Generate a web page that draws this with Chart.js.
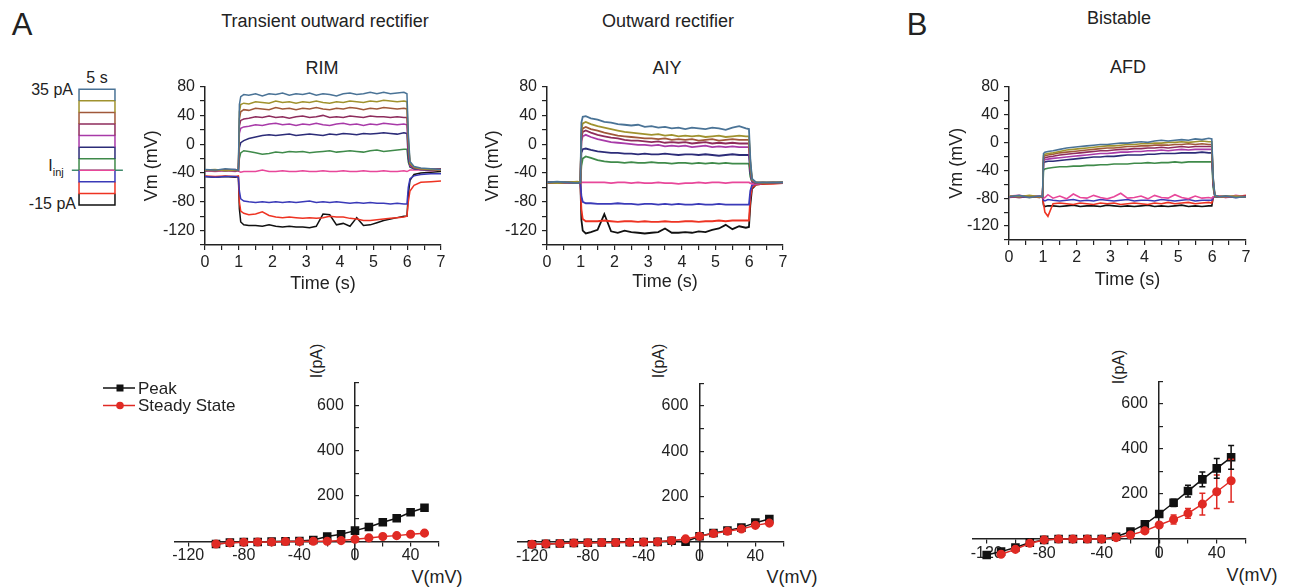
<!DOCTYPE html>
<html>
<head>
<meta charset="utf-8">
<script src="https://cdn.jsdelivr.net/npm/chart.js@4.4.1/dist/chart.umd.min.js"></script>
<style>
  body { margin: 0; background: #fff; width: 1293px; height: 588px; position: relative; overflow: hidden;
         font-family: "Liberation Sans", Arial, sans-serif; color: #222; }
  .box { position: absolute; }
  .t { position: absolute; white-space: nowrap; line-height: 1; transform: translate(-50%, -50%); }
  .r { position: absolute; white-space: nowrap; line-height: 1; transform: translate(-100%, -50%); }
  .v { position: absolute; white-space: nowrap; line-height: 1; transform: translate(-50%, -50%) rotate(-90deg); }
</style>
</head>
<body>

<div class="t" style="left:22px;top:24px;font-size:31px">A</div>
<div class="t" style="left:917px;top:24px;font-size:31px">B</div>
<div class="t" style="left:325px;top:21px;font-size:18px">Transient outward rectifier</div>
<div class="t" style="left:668px;top:21px;font-size:18px">Outward rectifier</div>
<div class="t" style="left:1119px;top:18px;font-size:18px">Bistable</div>
<div class="t" style="left:322px;top:68px;font-size:18px">RIM</div>
<div class="t" style="left:667px;top:68px;font-size:18px">AIY</div>
<div class="t" style="left:1128px;top:67px;font-size:18px">AFD</div>

<div class="r" style="left:73px;top:90px;font-size:16px">35 pA</div>
<div class="r" style="left:76px;top:204px;font-size:16px">-15 pA</div>
<div class="t" style="left:97px;top:78px;font-size:16px">5 s</div>
<div class="t" style="left:56px;top:168px;font-size:16px">I<sub style="font-size:11px">inj</sub></div>

<div class="t" style="left:437px;top:577px;font-size:18px">V(mV)</div>
<div class="t" style="left:792px;top:577px;font-size:18px">V(mV)</div>
<div class="t" style="left:1252px;top:575px;font-size:18px">V(mV)</div>
<div class="v" style="left:317px;top:361px;font-size:16px">I(pA)</div>
<div class="v" style="left:659px;top:361px;font-size:16px">I(pA)</div>
<div class="v" style="left:1119px;top:367px;font-size:16px">I(pA)</div>

<div class="box" id="stimBox"><canvas id="stim"></canvas></div>
<div class="box" id="rimBox"><canvas id="rim"></canvas></div>
<div class="box" id="aiyBox"><canvas id="aiy"></canvas></div>
<div class="box" id="afdBox"><canvas id="afd"></canvas></div>
<div class="box" id="rimIvBox"><canvas id="rimIv"></canvas></div>
<div class="box" id="aiyIvBox"><canvas id="aiyIv"></canvas></div>
<div class="box" id="afdIvBox"><canvas id="afdIv"></canvas></div>

<script>
// current steps (pA) and their colours
const stepLevels = [35, 30, 25, 20, 15, 10, 5, 0, -5, -10, -15];
const stepColors = ['#4a7396', '#a0922e', '#a0583a', '#8e2c5c', '#a83aa8', '#2c2c78',
                    '#3f8a4a', '#e8479a', '#3a3ab8', '#ee3322', '#111111'];
const stepSpan = [0, 5];       // 5 s pulse in the legend
const iinjSpan = [-1, 6.1];

// sample times (s) shared by all voltage traces
const T = [0, 0.3, 0.6, 0.9, 0.99, 1.02, 1.06, 1.15,
  1.3, 1.5, 1.7, 1.9, 2.1, 2.3, 2.5, 2.7, 2.9, 3.1, 3.3, 3.5, 3.7, 3.9, 4.1, 4.3,
  4.5, 4.7, 4.9, 5.1, 5.3, 5.5, 5.7, 5.9, 5.99, 6.03, 6.08, 6.2, 6.4, 6.7, 7];

// RIM traces (mV)
const rim35 = [-35,-36,-34,-35,-36, 55,66,69, 68,70,67,70,69,71,68,70, 69,71,68,70,69,67,70,71, 69,70,72,70,72,70,71,72, 70, 15,-24,-31,-33,-34,-35];
const rim30 = [-36,-35,-37,-36,-35, 45,55,57, 56,59,58,57,60,58,59,57, 59,58,60,58,57,59,58,60, 59,58,60,59,61,60,59,60, 59, 8,-26,-32,-34,-35,-36];
const rim25 = [-36,-37,-35,-36,-37, 35,45,48, 47,50,49,48,51,49,50,48, 50,49,51,49,48,50,49,51, 50,48,50,49,51,50,49,50, 49, 2,-27,-32,-34,-35,-35];
const rim20 = [-37,-36,-36,-37,-36, 25,33,35, 36,38,37,39,37,38,36,38, 39,37,38,40,37,38,37,39, 38,37,39,38,38,37,38,37, 37, -4,-28,-33,-34,-35,-34];
const rim15 = [-36,-37,-36,-35,-37, 15,22,24, 25,27,26,28,29,27,28,26, 28,27,29,27,26,28,29,27, 28,26,28,27,29,28,27,28, 27, -10,-30,-33,-35,-34,-35];
const rim10 = [-37,-36,-37,-36,-36, -5,2,5, 8,10,12,13,12,13,14,12, 13,14,13,12,14,13,15,14, 13,15,14,15,16,15,14,16, 15, -20,-31,-34,-35,-36,-35];
const rim5 = [-36,-37,-36,-37,-36, -20,-12,-9, -10,-12,-14,-13,-11,-12,-10,-11, -10,-12,-11,-10,-9,-11,-10,-9, -10,-11,-9,-8,-10,-9,-8,-7, -7, -25,-32,-34,-35,-35,-34];
const rim0 = [-37,-38,-37,-38,-37, -38,-39,-38, -38,-38,-36,-38,-38,-37,-38,-38, -37,-38,-38,-37,-38,-38,-37,-38, -38,-37,-38,-38,-37,-38,-38,-37, -38, -37,-36,-36,-36,-37,-36];
const rimM5 = [-45,-46,-45,-45,-46, -65,-76,-79, -80,-81,-80,-81,-80,-81,-80,-81, -80,-79,-81,-80,-81,-80,-81,-82, -81,-82,-81,-82,-82,-83,-82,-83, -83, -60,-48,-44,-42,-41,-41];
const rimM10 = [-44,-45,-44,-45,-44, -80,-93,-96, -98,-97,-94,-99,-101,-102,-101,-102, -103,-102,-103,-102,-100,-101,-101,-103, -104,-106,-106,-105,-104,-103,-102,-101, -100, -80,-65,-57,-53,-52,-51];
const rimM15 = [-45,-46,-45,-46,-45, -90,-108,-112, -113,-113,-114,-112,-114,-115,-114,-115, -115,-116,-114,-97,-98,-112,-110,-114, -102,-113,-112,-109,-106,-104,-102,-100, -100, -70,-50,-42,-40,-39,-38];

// AIY traces (mV)
const aiy35 = [-53,-52,-53,-54,-53, 30,38,39, 36,34,31,30,28,27,26,27, 24,25,23,24,22,23,21,23, 22,21,23,22,20,23,25,22, 21, -20,-48,-53,-53,-53,-53];
const aiy30 = [-53,-54,-53,-52,-53, 20,29,31, 28,25,23,21,19,17,16,15, 14,13,14,12,13,11,12,11, 12,10,11,12,10,11,12,11, 11, -25,-49,-53,-53,-53,-53];
const aiy25 = [-54,-53,-53,-54,-53, 14,22,24, 21,19,16,14,12,11,10,9, 8,8,7,8,6,7,6,7, 5,6,7,5,6,7,6,6, 6, -28,-50,-53,-54,-53,-53];
const aiy20 = [-53,-54,-53,-53,-54, 9,17,19, 16,13,11,9,8,6,5,5, 4,3,4,2,3,2,3,1, 2,3,1,2,1,2,1,1, 1, -32,-50,-54,-53,-54,-53];
const aiy15 = [-54,-53,-54,-53,-53, 4,11,13, 10,7,5,3,2,1,0,-1, -1,-2,-1,-3,-2,-3,-2,-4, -3,-2,-4,-3,-4,-3,-4,-4, -4, -35,-51,-54,-54,-53,-54];
const aiy10 = [-53,-53,-54,-53,-53, -12,-7,-6, -8,-10,-11,-12,-12,-13,-13,-14, -13,-14,-14,-13,-14,-15,-14,-14, -15,-14,-15,-16,-15,-14,-15,-15, -15, -40,-52,-54,-54,-54,-53];
const aiy5 = [-54,-53,-53,-54,-53, -30,-20,-17, -19,-22,-24,-25,-25,-26,-25,-26, -26,-25,-26,-26,-27,-26,-26,-27, -26,-27,-26,-27,-26,-27,-27,-27, -27, -45,-52,-54,-54,-54,-54];
const aiy0 = [-53,-53,-54,-53,-53, -53,-53,-53, -53,-53,-53,-54,-53,-53,-54,-53, -54,-54,-53,-54,-54,-55,-54,-54, -53,-54,-53,-53,-54,-53,-53,-53, -53, -54,-55,-55,-54,-54,-54];
const aiyM5 = [-53,-54,-53,-53,-54, -72,-80,-82, -82,-83,-83,-83,-82,-83,-83,-84, -83,-83,-84,-83,-84,-83,-84,-84, -83,-84,-84,-83,-84,-84,-84,-84, -84, -65,-57,-55,-54,-54,-54];
const aiyM10 = [-54,-53,-54,-53,-53, -90,-104,-107, -107,-107,-106,-107,-108,-107,-107,-108, -107,-108,-108,-107,-108,-108,-107,-107, -108,-107,-107,-106,-107,-106,-106,-106, -106, -75,-60,-56,-55,-55,-54];
const aiyM15 = [-53,-54,-53,-53,-53, -105,-120,-124, -122,-119,-97,-121,-123,-120,-122,-123, -124,-123,-122,-117,-123,-123,-122,-123, -121,-122,-119,-117,-112,-118,-114,-116, -115, -85,-62,-56,-55,-54,-54];

// AFD traces (mV)
const afd35 = [-78,-76,-79,-77,-78, -16,-14,-13, -12,-10,-8,-7,-6,-5,-4,-3, -3,-2,-1,-1,0,1,0,2, 3,2,3,4,3,5,4,6, 5, -50,-76,-78,-77,-79,-78];
const afd30 = [-77,-78,-76,-78,-77, -19,-17,-16, -15,-13,-11,-10,-9,-8,-7,-6, -5,-5,-4,-3,-3,-2,-2,-1, -1,0,0,1,0,1,2,1, 1, -52,-76,-78,-78,-77,-78];
const afd25 = [-78,-77,-78,-79,-78, -21,-19,-18, -17,-15,-14,-13,-12,-11,-10,-9, -8,-8,-7,-6,-6,-5,-5,-4, -4,-4,-3,-3,-2,-3,-2,-3, -3, -54,-77,-78,-77,-78,-78];
const afd20 = [-78,-78,-77,-78,-79, -24,-22,-21, -20,-18,-17,-16,-15,-14,-13,-12, -12,-11,-10,-10,-9,-9,-8,-8, -7,-8,-7,-6,-7,-6,-6,-6, -6, -56,-77,-78,-78,-78,-77];
const afd15 = [-79,-78,-78,-77,-78, -26,-25,-24, -23,-22,-21,-20,-19,-18,-17,-16, -16,-15,-14,-14,-13,-13,-12,-12, -11,-12,-11,-10,-11,-10,-10,-10, -10, -58,-77,-78,-79,-78,-78];
const afd10 = [-78,-79,-78,-78,-77, -29,-28,-27, -27,-26,-25,-24,-23,-22,-21,-21, -20,-20,-19,-18,-18,-18,-17,-17, -16,-16,-16,-15,-15,-15,-14,-15, -15, -60,-77,-78,-78,-79,-78];
const afd5 = [-78,-77,-78,-78,-78, -40,-38,-37, -36,-35,-35,-34,-34,-33,-33,-32, -32,-31,-31,-31,-30,-30,-29,-30, -29,-29,-28,-29,-28,-28,-28,-28, -28, -65,-78,-78,-77,-78,-78];
const afd0 = [-77,-76,-78,-77,-78, -80,-79,-75, -80,-77,-81,-74,-79,-80,-76,-79, -81,-78,-73,-80,-79,-77,-81,-76, -79,-80,-75,-79,-81,-77,-80,-79, -80, -78,-78,-77,-79,-76,-78];
const afdM5 = [-78,-78,-77,-79,-78, -83,-84,-82, -83,-84,-83,-82,-84,-83,-84,-82, -83,-84,-83,-82,-84,-83,-83,-84, -82,-83,-84,-83,-82,-84,-83,-83, -83, -79,-78,-78,-78,-79,-78];
const afdM10 = [-78,-79,-78,-78,-79, -88,-100,-106, -88,-87,-88,-89,-87,-88,-89,-87, -88,-87,-89,-88,-87,-88,-89,-87, -88,-86,-88,-87,-86,-88,-87,-86, -87, -79,-78,-77,-78,-78,-76];
const afdM15 = [-78,-78,-79,-78,-78, -90,-92,-91, -91,-92,-91,-90,-92,-91,-91,-92, -90,-91,-92,-91,-92,-91,-90,-92, -91,-92,-91,-90,-92,-91,-92,-91, -91, -79,-78,-78,-78,-78,-78];

// I-V curves
const rimV = [-100,-90,-80,-70,-60,-50,-40,-30,-20,-10,0,10,20,30,40,50];
const rimPeak = [-12,-6,-3,-3,-1,0,1,6,21,31,47,63,84,102,128,148];
const rimSteady = [-12,-7,-4,-3,-3,-1,-1,0,0,3,9,15,21,25,31,36];

const aiyV = [-120,-110,-100,-90,-80,-70,-60,-50,-40,-30,-20,-10,0,10,20,30,40,50];
const aiyPeak = [-12,-10,-8,-6,-5,-4,-4,-3,-2,-1,4,0,24,38,49,62,84,100];
const aiySteady = [-12,-10,-8,-6,-5,-4,-4,-3,-2,-1,5,12,24,36,46,56,72,82];

const afdPeakV = [-120,-110,-100,-90,-80,-70,-60,-50,-40,-30,-20,-10,0,10,20,30,40,50];
const afdPeak = [-71,-56,-38,-16,-4,0,0,0,0,10,33,65,111,161,213,265,314,363];
const afdPeakErr = [0,0,0,0,0,0,0,0,0,0,0,0,8,16,26,33,44,53];
const afdSteadyV = [-110,-100,-90,-80,-70,-60,-50,-40,-30,-20,-10,0,10,20,30,40,50];
const afdSteady = [-68,-46,-19,-4,0,0,0,0,6,18,36,62,87,114,155,210,259];
const afdSteadyErr = [0,0,0,0,0,0,0,0,0,0,0,6,20,22,48,74,95];

const INK = '#222';
Chart.defaults.font.family = '"Liberation Sans", Arial, sans-serif';
Chart.defaults.color = INK;

function place(id, left, top, w, h) {
  const b = document.getElementById(id);
  b.style.left = left + 'px'; b.style.top = top + 'px';
  b.style.width = w + 'px'; b.style.height = h + 'px';
}

const baseOpts = {
  responsive: true, maintainAspectRatio: false, animation: false, events: [],
  plugins: { legend: { display: false }, tooltip: { enabled: false } }
};

// ---- stimulus legend ----
place('stimBox', 60, 78, 82, 137);
const stimSets = stepLevels.map((L, i) => {
  const e = L > 0 ? L - 5 : (L < 0 ? L + 5 : L);
  return {
    data: [{x: stepSpan[0], y: e}, {x: stepSpan[0], y: L}, {x: stepSpan[1], y: L}, {x: stepSpan[1], y: e}],
    borderColor: stepColors[i], borderWidth: 1.5, pointRadius: 0, clip: false
  };
});
stimSets.push({
  data: [{x: iinjSpan[0], y: 0}, {x: iinjSpan[1], y: 0}],
  borderColor: '#3f8a6a', borderWidth: 1.5, pointRadius: 0, clip: false
});
new Chart(document.getElementById('stim'), {
  type: 'line',
  data: { datasets: stimSets },
  options: Object.assign({}, baseOpts, {
    layout: { padding: { left: 10.4, right: 18.4, top: 11.3, bottom: 10 } },
    scales: {
      x: { type: 'linear', min: -1.2, max: 6.2, display: false },
      y: { min: -15, max: 35, display: false }
    }
  })
});

// ---- voltage traces ----
function tracePanel(id, g, traces) {
  const left = g.L - g.yW, top = g.T - 12;
  place(id + 'Box', left, top, g.R + 15 - left, g.B + g.xH - top);
  new Chart(document.getElementById(id), {
    type: 'line',
    data: {
      datasets: traces.map((v, i) => ({
        data: T.map((t, j) => ({x: t, y: v[j]})),
        borderColor: stepColors[i], borderWidth: g.lw, pointRadius: 0
      }))
    },
    options: Object.assign({}, baseOpts, {
      layout: { padding: { left: 0, top: 12, right: 15, bottom: 0 } },
      scales: {
        x: {
          type: 'linear', min: 0, max: 7,
          afterFit: s => { s.height = g.xH; },
          ticks: { stepSize: 0.5, autoSkip: false, maxRotation: 0, padding: 3, font: { size: 16 },
                   callback: v => Number.isInteger(v) ? String(v) : '' },
          grid: { drawOnChartArea: false, tickLength: 5, color: INK, lineWidth: 1.2 },
          border: { color: INK, width: 1.5 },
          title: { display: true, text: 'Time (s)', font: { size: 18 } }
        },
        y: {
          min: -140, max: 80,
          afterFit: s => { s.width = g.yW; },
          ticks: { stepSize: 20, autoSkip: false, padding: 5, font: { size: 16 },
                   callback: v => v % 40 === 0 ? String(v) : '' },
          grid: { drawOnChartArea: false, tickLength: 5, color: INK, lineWidth: 1.2 },
          border: { color: INK, width: 1.5 },
          title: { display: true, text: 'Vm (mV)', font: { size: 18 } }
        }
      }
    })
  });
}

tracePanel('rim', { L: 205, R: 441, T: 84, B: 245, yW: 68, xH: 54, lw: 1.5 },
  [rim35, rim30, rim25, rim20, rim15, rim10, rim5, rim0, rimM5, rimM10, rimM15]);
tracePanel('aiy', { L: 547, R: 783, T: 84, B: 245, yW: 69, xH: 52, lw: 1.8 },
  [aiy35, aiy30, aiy25, aiy20, aiy15, aiy10, aiy5, aiy0, aiyM5, aiyM10, aiyM15]);
tracePanel('afd', { L: 1009, R: 1246, T: 84, B: 240, yW: 67, xH: 55, lw: 1.6 },
  [afd35, afd30, afd25, afd20, afd15, afd10, afd5, afd0, afdM5, afdM10, afdM15]);

// ---- I-V plots ----
const PEAK = '#111', STEADY = '#e02a24';

const errBars = {
  id: 'errBars',
  afterDatasetsDraw(chart) {
    const { ctx, scales: { x, y } } = chart;
    chart.data.datasets.forEach(ds => {
      if (!ds.err) return;
      ctx.save();
      ctx.strokeStyle = ds.borderColor;
      ctx.lineWidth = 1.5;
      ds.data.forEach((p, j) => {
        const e = ds.err[j];
        if (!e) return;
        const px = x.getPixelForValue(p.x);
        const y1 = y.getPixelForValue(p.y + e), y2 = y.getPixelForValue(p.y - e);
        ctx.beginPath();
        ctx.moveTo(px, y1); ctx.lineTo(px, y2);
        ctx.moveTo(px - 3, y1); ctx.lineTo(px + 3, y1);
        ctx.moveTo(px - 3, y2); ctx.lineTo(px + 3, y2);
        ctx.stroke();
      });
      ctx.restore();
    });
  }
};

function ivLegendAt(boxLeft, boxTop) {
  return {
    id: 'ivLegend',
    afterDraw(chart) {
      const ctx = chart.ctx;
      const rows = [{ ds: chart.data.datasets[1], y: 388 }, { ds: chart.data.datasets[0], y: 405.5 }];
      ctx.save();
      rows.forEach(r => {
        const y = r.y - boxTop, x0 = 103 - boxLeft, x1 = 135 - boxLeft, xm = 120 - boxLeft;
        ctx.strokeStyle = r.ds.borderColor; ctx.fillStyle = r.ds.borderColor; ctx.lineWidth = 1.5;
        ctx.beginPath(); ctx.moveTo(x0, y); ctx.lineTo(x1, y); ctx.stroke();
        ctx.beginPath();
        if (r.ds.pointStyle === 'rect') ctx.rect(xm - 3.5, y - 3.5, 7, 7);
        else ctx.arc(xm, y, 3.8, 0, Math.PI * 2);
        ctx.fill();
        ctx.fillStyle = INK;
        ctx.font = '17px "Liberation Sans", Arial, sans-serif';
        ctx.textBaseline = 'middle';
        ctx.fillText(r.ds.label, 138 - boxLeft, y + 1);
      });
      ctx.restore();
    }
  };
}

function ivPanel(id, box, area, sets, plugins) {
  place(id + 'Box', box.left, box.top, box.w, box.h);
  new Chart(document.getElementById(id), {
    type: 'line',
    data: {
      datasets: sets.map(s => ({
        label: s.label,
        data: s.v.map((v, j) => ({ x: v, y: s.i[j] })),
        err: s.err,
        borderColor: s.color, backgroundColor: s.color,
        pointBackgroundColor: s.color, pointBorderColor: s.color,
        borderWidth: 1.5, pointStyle: s.style, pointRadius: s.style === 'rect' ? 5 : 3.8,
        clip: false
      }))
    },
    options: Object.assign({}, baseOpts, {
      layout: { padding: {
        left: area.L - box.left, top: area.T - box.top,
        right: box.left + box.w - area.R, bottom: box.top + box.h - area.B } },
      scales: {
        x: {
          type: 'linear', min: -130, max: 60, position: { y: 0 },
          ticks: { stepSize: 20, includeBounds: false, autoSkip: false, maxRotation: 0, padding: 1,
                   font: { size: 16 },
                   callback: v => v % 40 === 0 ? String(v) : '' },
          grid: { drawOnChartArea: false, tickLength: 4, color: INK, lineWidth: 1.2 },
          border: { color: INK, width: 1.5 }
        },
        y: {
          min: -80, max: 700, position: { x: 0 },
          afterBuildTicks: s => { s.ticks = s.ticks.filter(t => t.value > 0); },
          ticks: { stepSize: 100, includeBounds: false, autoSkip: false, font: { size: 16 },
                   // trailing spaces keep the label clear of the crossing axis
                   callback: v => (v === 200 || v === 400 || v === 600) ? v + '\u2002\u2009' : '' },
          grid: { drawOnChartArea: false, tickLength: -5, color: INK, lineWidth: 1.2 },
          border: { color: INK, width: 1.5 }
        }
      }
    }),
    plugins: plugins || []
  });
}

ivPanel('rimIv', { left: 92, top: 370, w: 380, h: 218 }, { L: 174.3, R: 438.4, T: 382.8, B: 559.4 }, [
  { label: 'Steady State', v: rimV, i: rimSteady, color: STEADY, style: 'circle' },
  { label: 'Peak', v: rimV, i: rimPeak, color: PEAK, style: 'rect' }
], [ivLegendAt(92, 370)]);

ivPanel('aiyIv', { left: 490, top: 370, w: 320, h: 218 }, { L: 518, R: 783.3, T: 383.5, B: 559.7 }, [
  { label: 'Steady State', v: aiyV, i: aiySteady, color: STEADY, style: 'circle' },
  { label: 'Peak', v: aiyV, i: aiyPeak, color: PEAK, style: 'rect' }
]);

ivPanel('afdIv', { left: 945, top: 368, w: 340, h: 220 }, { L: 972.3, R: 1245.5, T: 381.5, B: 557 }, [
  { label: 'Steady State', v: afdSteadyV, i: afdSteady, err: afdSteadyErr, color: STEADY, style: 'circle' },
  { label: 'Peak', v: afdPeakV, i: afdPeak, err: afdPeakErr, color: PEAK, style: 'rect' }
], [errBars]);
</script>
</body>
</html>
